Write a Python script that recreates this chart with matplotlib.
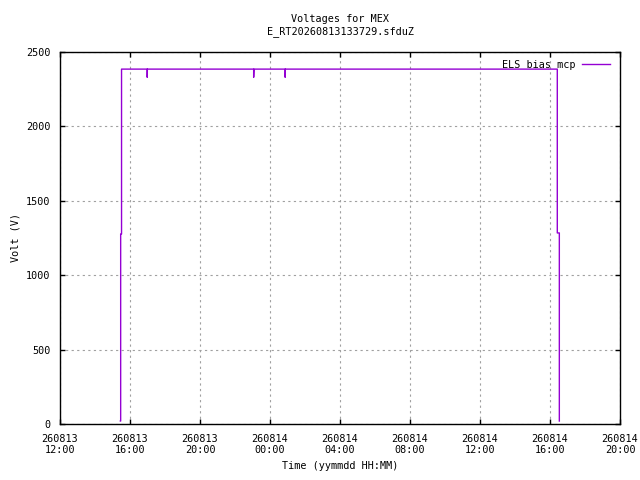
import numpy as np
import matplotlib.pyplot as plt
import matplotlib.dates as mdates
from datetime import datetime

# ELS bias mcp samples (time, volt)
times = ["2026-08-13 15:27:00", "2026-08-13 15:28:00", "2026-08-13 15:28:00",
         "2026-08-13 15:31:00", "2026-08-13 15:31:00", "2026-08-13 16:59:00",
         "2026-08-13 16:59:00", "2026-08-13 16:59:30", "2026-08-13 23:04:00",
         "2026-08-13 23:04:00", "2026-08-13 23:05:00", "2026-08-14 00:52:00",
         "2026-08-14 00:52:00", "2026-08-14 00:52:30", "2026-08-14 16:25:00",
         "2026-08-14 16:25:00", "2026-08-14 16:32:00", "2026-08-14 16:32:00"]
volts = [20, 20, 1277,
         1277, 2385, 2385,
         2330, 2385, 2385,
         2330, 2385, 2385,
         2330, 2385, 2385,
         1284, 1284, 20]

tt = [datetime.strptime(s, "%Y-%m-%d %H:%M:%S") for s in times]

plt.rcParams['font.family'] = ['DejaVu Sans Mono']
plt.rcParams['font.size'] = 7.3

fig = plt.figure(figsize=(6.4, 4.8), dpi=100)
ax = fig.add_axes([60/640, 56/480, 560/640, 372/480])

ax.plot(tt, volts, "-", color="#9400D3", lw=1.0, label="ELS bias mcp")

ax.set_xlim(datetime(2026, 8, 13, 12), datetime(2026, 8, 14, 20))
ax.set_ylim(0, 2500)
ax.xaxis.set_major_locator(mdates.HourLocator(byhour=[0, 4, 8, 12, 16, 20]))
ax.xaxis.set_major_formatter(mdates.DateFormatter("%y%m%d\n%H:%M"))
ax.set_yticks(np.arange(0, 2501, 500))

ax.grid(True, color="#a0a0a0", linestyle=(0, (2, 3)), lw=0.8)
ax.tick_params(direction="in", top=True, right=True, length=3.5, width=1, pad=7)
for s in ax.spines.values():
    s.set_linewidth(1.0)

ax.set_title("Voltages for MEX\nE_RT20260813133729.sfduZ", fontsize=7.3, pad=13)
ax.set_xlabel("Time (yymmdd HH:MM)")
ax.set_ylabel("Volt (V)")
ax.legend(loc="upper right", bbox_to_anchor=(0.9875, 0.987), frameon=False,
          markerfirst=False, handlelength=2.8, handletextpad=0.6,
          borderaxespad=0, borderpad=0.3)

fig.savefig("out.png", dpi=100)
